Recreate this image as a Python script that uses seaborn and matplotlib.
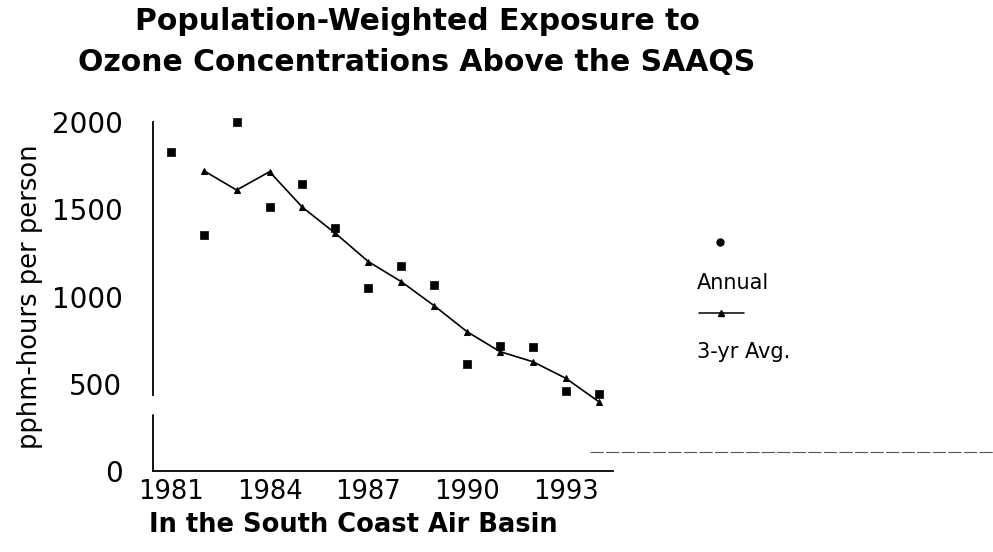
import numpy as np
import pandas as pd
import matplotlib
matplotlib.use("Agg")
import matplotlib.pyplot as plt
import seaborn as sns
from matplotlib.lines import Line2D

# data
years = [1981, 1982, 1983, 1984, 1985, 1986, 1987, 1988, 1989, 1990, 1991, 1992, 1993, 1994]
annual = [1826, 1352, 1998, 1515, 1645, 1391, 1047, 1177, 1066, 613, 716, 712, 460, 441]
avg_years = [1982, 1983, 1984, 1985, 1986, 1987, 1988, 1989, 1990, 1991, 1992, 1993, 1994]
avg_3yr = [1721, 1610, 1715, 1511, 1362, 1200, 1085, 947, 798, 684, 626, 531, 397]
year_labels = [1981, 1984, 1987, 1990, 1993]
y_ticks = [0, 500, 1000, 1500, 2000]

sns.set_theme(style="white")
plt.rcParams['font.family'] = ['DejaVu Sans']

df_annual = pd.DataFrame({'year': years, 'value': annual})
df_avg = pd.DataFrame({'year': avg_years, 'value': avg_3yr})

fig = plt.figure(figsize=(9.93, 5.52), dpi=100)
ax = fig.add_axes([153 / 993, 1 - 471 / 552, (613 - 153) / 993, (471 - 122) / 552])

sns.lineplot(data=df_avg, x='year', y='value', ax=ax, color='black', linewidth=1.2,
             marker='^', markersize=5, markeredgecolor='black', clip_on=False)
sns.scatterplot(data=df_annual, x='year', y='value', ax=ax, color='black', marker='s',
                s=38, edgecolor='black', clip_on=False, zorder=3)

ax.set_xlim(1980.46, 1994.43)
ax.set_ylim(0, 2000)

# spines: left axis drawn with a break, bottom only
for side in ['top', 'right']:
    ax.spines[side].set_visible(False)
ax.spines['left'].set_bounds(435, 2000)
ax.spines['left'].set_color('black')
ax.spines['left'].set_linewidth(1.3)
ax.spines['bottom'].set_color('black')
ax.spines['bottom'].set_linewidth(1.3)
ax.plot([1980.46, 1980.46], [0, 321], color='black', lw=1.3, clip_on=False)

ax.set_xticks(years)
ax.set_xticklabels([str(y) if y in year_labels else '' for y in years], fontsize=18.5)
ax.tick_params(axis='x', direction='in', length=5, width=1.2, color='black', pad=6)
ax.set_yticks(y_ticks)
ax.set_yticklabels([str(v) for v in y_ticks], fontsize=20)
ax.tick_params(axis='y', length=0, pad=22)
for lab in ax.get_xticklabels() + ax.get_yticklabels():
    lab.set_color('black')
    lab.set_fontweight('medium')

ax.set_xlabel('')
ax.set_ylabel('pphm-hours per person', fontsize=18.5, color='black', labelpad=6)

# titles
fig.text(0.42, 1 - 22 / 552, 'Population-Weighted Exposure to', ha='center', va='center',
         fontsize=21.5, fontweight='bold', color='black')
fig.text(0.42, 1 - 62 / 552, 'Ozone Concentrations Above the SAAQS', ha='center', va='center',
         fontsize=21.5, fontweight='bold', color='black')
fig.text(353 / 993, 1 - 525 / 552, 'In the South Coast Air Basin', ha='center', va='center',
         fontsize=18.5, fontweight='bold', color='black')

# legend, drawn by hand (marker above label)
fig.add_artist(Line2D([720 / 993], [1 - 242 / 552], transform=fig.transFigure, marker='o',
                      markersize=5, color='black', linestyle='none'))
fig.text(697 / 993, 1 - 283 / 552, 'Annual', ha='left', va='center', fontsize=15, color='black')
fig.add_artist(Line2D([699 / 993, 744 / 993], [1 - 313 / 552, 1 - 313 / 552], transform=fig.transFigure,
                      color='black', lw=1.1))
fig.add_artist(Line2D([721 / 993], [1 - 313 / 552], transform=fig.transFigure, marker='^',
                      markersize=4, color='black', linestyle='none'))
fig.text(697 / 993, 1 - 352 / 552, '3-yr Avg.', ha='left', va='center', fontsize=15, color='black')

# faint scan line at lower right
fig.add_artist(Line2D([590 / 993, 1.0], [1 - 452 / 552, 1 - 452 / 552], transform=fig.transFigure,
                      color='#555555', lw=0.8, linestyle=(0, (12, 2))))

fig.savefig('out.png', dpi=100, facecolor='white')
